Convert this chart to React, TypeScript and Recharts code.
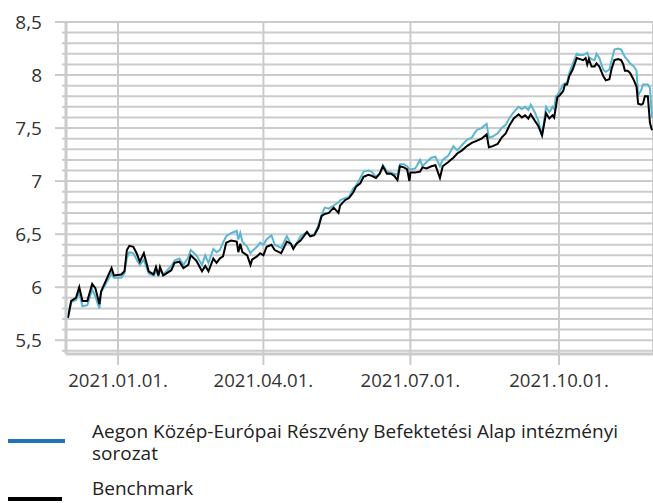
import React from 'react';
import { LineChart, Line, XAxis, YAxis, CartesianGrid } from 'recharts';

// days counted from 2021-01-01
const days = [
  -31, -29, -26, -24, -22, -19, -16, -14, -11.5, -10.5,
  -4, -2.5, 2, 4, 5.5, 7, 9.5, 11.5, 13.5, 16,
  19, 22, 23.5, 25, 26, 28, 30, 33, 35, 38,
  40.5, 43.5, 45, 48.5, 52, 54, 56, 59, 61, 63,
  65, 67, 70, 73.5, 74.5, 75.7, 77, 80, 82, 83,
  86, 88, 90, 92, 95, 97, 101, 104.5, 107, 108.5,
  110.5, 113, 117, 119, 121.5, 124, 126, 128, 130.5, 133.5,
  136.5, 137.5, 140.5, 143, 145.5, 147.5, 150, 152, 155, 157,
  159.7, 162, 164, 166.5, 169, 171, 173, 174.5, 177, 179,
  180.4, 181, 184, 187, 188.5, 191, 194, 196.5, 199.3, 201,
  204.5, 207.6, 210, 213, 216, 219, 222, 225, 228.2, 229.6,
  232, 235, 237.5, 240, 242.5, 245, 248, 250, 252, 254,
  255.5, 258, 260.2, 262.5, 265, 267, 269, 270, 271.1, 272,
  273.5, 275.6, 276.7, 278, 279.4, 281.4, 284, 286, 288, 289.5,
  290.5, 291.5, 293.2, 295, 296.2, 298, 300.4, 302, 304.2, 305.6,
  307.3, 309.6, 311.5, 312.8, 313.8, 315.5, 317, 319.4, 321, 322,
  324, 325, 326.2, 328, 329.3, 330.6,
];

const fundValues = [
  5.71, 5.86, 5.88, 5.95, 5.82, 5.83, 5.98, 5.91, 5.8, 5.95,
  6.13, 6.09, 6.09, 6.13, 6.28, 6.33, 6.32, 6.26, 6.21, 6.26,
  6.13, 6.11, 6.15, 6.11, 6.16, 6.12, 6.15, 6.2, 6.25, 6.27,
  6.21, 6.28, 6.35, 6.3, 6.21, 6.3, 6.23, 6.36, 6.33, 6.35,
  6.42, 6.48, 6.51, 6.53, 6.45, 6.51, 6.43, 6.38, 6.32, 6.34,
  6.38, 6.42, 6.4, 6.45, 6.49, 6.4, 6.37, 6.48, 6.41, 6.38,
  6.41, 6.48, 6.52, 6.48, 6.5, 6.58, 6.68, 6.75, 6.74, 6.77,
  6.8, 6.82, 6.84, 6.85, 6.93, 6.96, 7.03, 7.09, 7.1, 7.09,
  7.04, 7.07, 7.15, 7.09, 7.08, 7.07, 7.06, 7.16, 7.16, 7.14,
  7.11, 7.11, 7.12, 7.2, 7.14, 7.18, 7.22, 7.23, 7.14, 7.2,
  7.24, 7.33, 7.29, 7.34, 7.39, 7.41, 7.48, 7.5, 7.54, 7.41,
  7.42, 7.45, 7.5, 7.53, 7.6, 7.65, 7.7, 7.68, 7.7, 7.67,
  7.72, 7.65, 7.57, 7.43, 7.7, 7.65, 7.7, 7.68, 7.8, 7.81,
  7.85, 7.91, 7.92, 7.93, 8.02, 8.1, 8.2, 8.19, 8.19, 8.2,
  8.21, 8.17, 8.15, 8.14, 8.2, 8.16, 8.05, 8.03, 8.05, 8.14,
  8.24, 8.25, 8.24, 8.2, 8.17, 8.14, 8.11, 8.08, 8.04, 7.81,
  7.86, 7.91, 7.91, 7.91, 7.88, 7.6,
];

const benchmarkValues = [
  5.71, 5.87, 5.9, 6.0, 5.87, 5.87, 6.03, 5.99, 5.84, 5.96,
  6.18, 6.11, 6.12, 6.15, 6.35, 6.39, 6.38, 6.32, 6.24, 6.32,
  6.15, 6.12, 6.19, 6.11, 6.19, 6.11, 6.13, 6.16, 6.23, 6.24,
  6.18, 6.21, 6.3, 6.25, 6.15, 6.2, 6.15, 6.27, 6.23, 6.27,
  6.29, 6.42, 6.44, 6.43, 6.33, 6.41, 6.33, 6.3, 6.21, 6.26,
  6.29, 6.32, 6.3, 6.38, 6.4, 6.35, 6.32, 6.43, 6.41, 6.36,
  6.41, 6.44, 6.52, 6.48, 6.49, 6.56, 6.67, 6.69, 6.7, 6.75,
  6.7, 6.77, 6.82, 6.84, 6.89, 6.95, 6.98, 7.04, 7.06, 7.05,
  7.03, 7.07, 7.14, 7.07, 7.07, 7.05, 7.01, 7.14, 7.13, 7.11,
  7.0, 7.08, 7.08, 7.09, 7.13, 7.12, 7.14, 7.15, 7.03, 7.14,
  7.18, 7.22, 7.26, 7.29, 7.33, 7.36, 7.38, 7.4, 7.44, 7.32,
  7.33, 7.35, 7.41, 7.45, 7.53, 7.59, 7.63, 7.6, 7.62, 7.59,
  7.63, 7.57, 7.52, 7.43, 7.64, 7.59, 7.62, 7.6, 7.7, 7.79,
  7.81, 7.85, 7.91, 7.91, 7.99, 8.05, 8.16, 8.15, 8.14, 8.16,
  8.1, 8.15, 8.08, 8.08, 8.11, 8.08, 7.99, 7.95, 7.96, 8.06,
  8.14, 8.15, 8.14, 8.1, 8.04, 8.04, 8.02, 7.95, 7.89, 7.73,
  7.72, 7.73, 7.8, 7.8, 7.55, 7.48,
];

const xTicks = [0, 90, 181, 273];
const xTickLabels = ['2021.01.01.', '2021.04.01.', '2021.07.01.', '2021.10.01.'];

const yTicks = [
  5.4, 5.5, 5.6, 5.7, 5.8, 5.9, 6.0, 6.1, 6.2, 6.3,
  6.4, 6.5, 6.6, 6.7, 6.8, 6.9, 7.0, 7.1, 7.2, 7.3,
  7.4, 7.5, 7.6, 7.7, 7.8, 7.9, 8.0, 8.1, 8.2, 8.3,
  8.4, 8.5,
];

const fundName = 'Aegon Közép-Európai Részvény Befektetési Alap intézményi sorozat';
const benchmarkName = 'Benchmark';

const chartData = days.map((day, i) => ({
  day,
  fund: fundValues[i],
  benchmark: benchmarkValues[i],
}));

const GRID = '#cbcbcb';
const FONT = '"Open Sans", sans-serif';

const formatY = (v: number) => String(Number(v.toFixed(1))).replace('.', ',');

const YTick = (props: any) => {
  const { x, y, payload } = props;
  const v = payload.value;
  const major = Math.abs(v * 2 - Math.round(v * 2)) < 1e-6;
  return (
    <g>
      <line x1={x - (major ? 11 : 4)} x2={x} y1={y} y2={y} stroke={GRID} strokeWidth={2} />
      {major && (
        <text x={x - 24} y={y} dy={6.5} textAnchor="end" fill="#333" fontSize={19} fontFamily={FONT}>
          {formatY(v)}
        </text>
      )}
    </g>
  );
};

const App: React.FC = () => {
  return (
    <div style={{ position: 'absolute', left: 0, top: 0, width: 653, height: 503, background: '#fff', fontFamily: FONT }}>
      <LineChart width={653} height={503} data={chartData} margin={{ top: 22, right: 0, bottom: 109, left: 0 }}>
        <CartesianGrid stroke={GRID} strokeWidth={2} />
        <XAxis
          dataKey="day"
          type="number"
          domain={[-32.2, 331.2]}
          ticks={xTicks}
          allowDataOverflow
          height={40}
          tickFormatter={(v: number) => xTickLabels[xTicks.indexOf(v)]}
          axisLine={{ stroke: GRID, strokeWidth: 3 }}
          tickLine={{ stroke: GRID, strokeWidth: 2 }}
          tickSize={11}
          tickMargin={9}
          tick={{ fill: '#333', fontSize: 18.6, fontFamily: FONT }}
        />
        <YAxis
          type="number"
          domain={[5.37, 8.5]}
          ticks={yTicks}
          allowDataOverflow
          width={66}
          axisLine={{ stroke: GRID, strokeWidth: 3 }}
          tickLine={false}
          tickSize={0}
          tickMargin={0}
          tick={<YTick />}
          interval={0}
        />
        <Line
          dataKey="fund"
          name={fundName}
          type="linear"
          stroke="#5bb6d2"
          strokeWidth={2}
          dot={false}
          isAnimationActive={false}
        />
        <Line
          dataKey="benchmark"
          name={benchmarkName}
          type="linear"
          stroke="#000"
          strokeWidth={2}
          dot={false}
          isAnimationActive={false}
        />
      </LineChart>
      <div style={{ position: 'absolute', left: 8, top: 439, width: 57, height: 4, background: '#1f73b8' }} />
      <div style={{ position: 'absolute', left: 92, top: 420, width: 560, fontSize: 19, lineHeight: '22px', color: '#222' }}>
        {fundName}
      </div>
      <div style={{ position: 'absolute', left: 8, top: 497, width: 54, height: 4, background: '#000' }} />
      <div style={{ position: 'absolute', left: 92, top: 479, fontSize: 19, lineHeight: '18px', color: '#222' }}>
        {benchmarkName}
      </div>
    </div>
  );
};

export default App;
